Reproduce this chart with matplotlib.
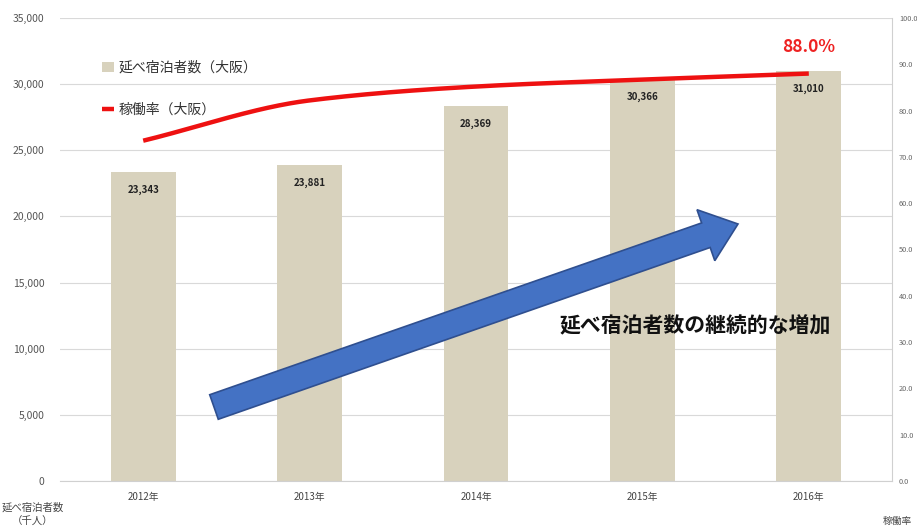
import matplotlib
matplotlib.use("Agg")
import matplotlib.pyplot as plt
from matplotlib.patches import Polygon
import numpy as np

plt.rcParams['font.family'] = ['Noto Sans CJK JP', 'DejaVu Sans']

years = ["2012年", "2013年", "2014年", "2015年", "2016年"]
guests = [23343, 23881, 28369, 30366, 31010]
occupancy = [73.5, 82.2, 85.2, 86.7, 88.0]
guest_labels = ["23,343", "23,881", "28,369", "30,366", "31,010"]

W, H = 917, 529
fig = plt.figure(figsize=(W / 100, H / 100), dpi=100)
ax = fig.add_axes([60 / W, 1 - 481 / H, 832 / W, 463 / H])
ax2 = ax.twinx()

x = np.arange(len(years))
bar_color = '#d8d2bd'
ax.bar(x, guests, width=0.39, color=bar_color, zorder=2, label="延べ宿泊者数（大阪）")
for xi, v, lab in zip(x, guests, guest_labels):
    ax.annotate(lab, (xi, v), xytext=(0, -13), textcoords='offset points',
                ha='center', va='center', fontsize=7, fontweight='bold',
                color='#222222', zorder=3)

ax.set_xlim(-0.5, len(years) - 0.5)
ax.set_ylim(0, 35000)
ax.set_yticks(np.arange(0, 35001, 5000))
ax.set_yticklabels([f"{v:,}" for v in range(0, 35001, 5000)], fontsize=7.5, color='#555555')
ax.set_xticks(x)
ax.set_xticklabels(years, fontsize=7, color='#444444')
ax.tick_params(axis='x', length=0, pad=8)
ax.tick_params(axis='y', length=0, pad=11)
ax.grid(axis='y', color='#d9d9d9', linewidth=0.8, zorder=0)
ax.set_axisbelow(True)
for s in ['top', 'left', 'right']:
    ax.spines[s].set_visible(False)
ax.spines['bottom'].set_color('#d0d0d0')


def pchip(xp, yp, xq):
    """Monotone cubic (Fritsch-Carlson) interpolation."""
    xp = np.asarray(xp, float); yp = np.asarray(yp, float)
    h = np.diff(xp); d = np.diff(yp) / h
    m = np.zeros_like(yp)
    m[0], m[-1] = d[0], d[-1]
    for k in range(1, len(yp) - 1):
        if d[k - 1] * d[k] > 0:
            w1 = 2 * h[k] + h[k - 1]; w2 = h[k] + 2 * h[k - 1]
            m[k] = (w1 + w2) / (w1 / d[k - 1] + w2 / d[k])
    out = []
    for q in xq:
        i = min(np.searchsorted(xp, q, side='right') - 1, len(xp) - 2)
        i = max(i, 0)
        t = (q - xp[i]) / h[i]
        h00 = 2 * t**3 - 3 * t**2 + 1; h10 = t**3 - 2 * t**2 + t
        h01 = -2 * t**3 + 3 * t**2; h11 = t**3 - t**2
        out.append(h00 * yp[i] + h10 * h[i] * m[i] + h01 * yp[i + 1] + h11 * h[i] * m[i + 1])
    return np.array(out)


xs = np.linspace(0, len(years) - 1, 300)
ax2.plot(xs, pchip(x, occupancy, xs), color='#ee1111', linewidth=3.2, zorder=4,
         solid_capstyle='butt', label="稼働率（大阪）")
ax2.set_ylim(0, 100)
ax2.set_yticks(np.arange(0, 101, 10))
ax2.set_yticklabels([f"{v:.1f}" for v in range(0, 101, 10)], fontsize=5.3, color='#666666')
ax2.tick_params(axis='y', length=0, pad=5)
for s in ['top', 'left', 'bottom']:
    ax2.spines[s].set_visible(False)
ax2.spines['right'].set_color('#d0d0d0')

ax2.annotate(f"{occupancy[-1]:.1f}%", (x[-1], occupancy[-1]), xytext=(0, 19),
             textcoords='offset points', ha='center', va='center',
             fontsize=12.5, fontweight='bold', color='#ee2222')

# legend
h1, l1 = ax.get_legend_handles_labels()
h2, l2 = ax2.get_legend_handles_labels()
ax2.legend(h1 + h2, l1 + l2, loc='upper left', bbox_to_anchor=(0.035, 0.935),
           frameon=False, fontsize=10, labelspacing=2.0, handlelength=0.9,
           handletextpad=0.3, labelcolor='#333333')


# big arrow drawn in figure pixel space
def arrow_poly(x0, y0, x1, y1, shaft, head_w, head_l):
    d = np.array([x1 - x0, y1 - y0], float)
    L = np.hypot(*d); u = d / L; n = np.array([-u[1], u[0]])
    p0 = np.array([x0, y0]); tip = np.array([x1, y1]); hb = tip - u * head_l
    pts = [p0 + n * shaft / 2, hb + n * shaft / 2, hb + n * head_w / 2, tip,
           hb - n * head_w / 2, hb - n * shaft / 2, p0 - n * shaft / 2]
    return [(px / W, 1 - py / H) for px, py in pts]


fig.patches.append(Polygon(arrow_poly(214, 407, 738, 224, 26, 54, 34), closed=True,
                           transform=fig.transFigure, facecolor='#4472c4',
                           edgecolor='#2f4f8f', linewidth=1.2, zorder=5))

fig.text(695 / W, 1 - 326 / H, "延べ宿泊者数の継続的な増加", ha='center', va='center',
         fontsize=15, fontweight='bold', color='#111111')

fig.text(33 / W, 1 - 508 / H, "延べ宿泊者数", ha='center', va='center', fontsize=7.5, color='#444444')
fig.text(33 / W, 1 - 522 / H, "（千人）", ha='center', va='center', fontsize=7.5, color='#444444')
fig.text(897 / W, 1 - 521 / H, "稼働率", ha='center', va='center', fontsize=7, color='#444444')

fig.savefig("out.png", dpi=100)
